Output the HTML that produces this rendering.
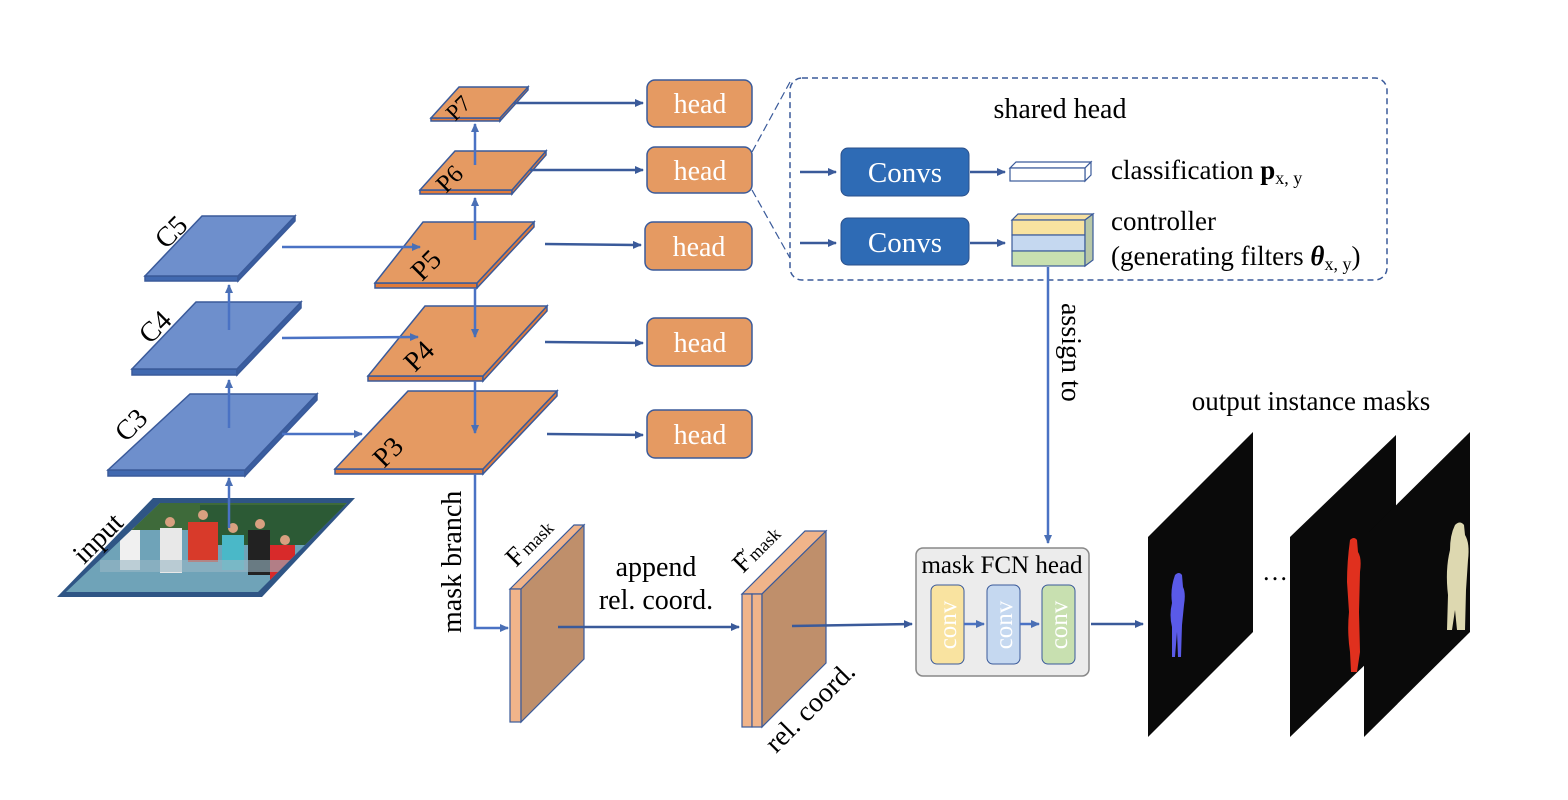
<!DOCTYPE html>
<html><head><meta charset="utf-8"><style>
html,body{margin:0;padding:0;background:#fff;}
svg{display:block;font-family:"Liberation Serif",serif;}
</style></head><body>
<svg width="1568" height="800" viewBox="0 0 1568 800" xmlns="http://www.w3.org/2000/svg">
<defs>
<marker id="a" markerWidth="10" markerHeight="10" refX="8" refY="4" orient="auto" markerUnits="userSpaceOnUse"><path d="M0,0 L9,4 L0,8 Z" fill="#4a6fb5"/></marker>
<marker id="b" markerWidth="10" markerHeight="10" refX="8" refY="4" orient="auto" markerUnits="userSpaceOnUse"><path d="M0,0 L9,4 L0,8 Z" fill="#3a5a9a"/></marker>
<clipPath id="ip"><polygon points="160,503 347,503 258,592 66,592"/></clipPath>
</defs>

<polygon points="153,498 355,498 262,597 57,597" fill="#2f5585"/>
<g clip-path="url(#ip)">
<rect x="50" y="500" width="310" height="100" fill="#6fa3b8"/>
<rect x="50" y="500" width="310" height="30" fill="#3e6a3a"/>
<rect x="200" y="505" width="160" height="40" fill="#2c5a35"/>
<rect x="120" y="530" width="20" height="40" fill="#f0f0f0"/>
<rect x="160" y="528" width="22" height="45" fill="#e8e8e8"/>
<rect x="188" y="522" width="30" height="40" fill="#d83a2a"/>
<rect x="222" y="535" width="22" height="35" fill="#4ab8c8"/>
<rect x="248" y="530" width="22" height="45" fill="#222"/>
<rect x="270" y="545" width="25" height="35" fill="#d82a2a"/>
<rect x="100" y="560" width="200" height="12" fill="#9ab8c4" opacity="0.6"/>
<circle cx="130" cy="525" r="5" fill="#d8a080"/><circle cx="170" cy="522" r="5" fill="#d8a080"/><circle cx="203" cy="515" r="5" fill="#d8a080"/><circle cx="233" cy="528" r="5" fill="#d8a080"/><circle cx="260" cy="524" r="5" fill="#d8a080"/><circle cx="285" cy="540" r="5" fill="#d8a080"/>
</g>

<g stroke="#3a5a9a" stroke-width="1.5">
<polygon points="145,276 238,276 238,281 145,281" fill="#4169b0"/>
<polygon points="238,276 295,216 295,221 238,281" fill="#3a5ea0"/>
<polygon points="202,216 295,216 238,276 145,276" fill="#6e8fcc"/>
<polygon points="132,369 237,369 237,375 132,375" fill="#4169b0"/>
<polygon points="237,369 301,302 301,308 237,375" fill="#3a5ea0"/>
<polygon points="196,302 301,302 237,369 132,369" fill="#6e8fcc"/>
<polygon points="108,470 245,470 245,476 108,476" fill="#4169b0"/>
<polygon points="245,470 317,394 317,400 245,476" fill="#3a5ea0"/>
<polygon points="190,394 317,394 245,470 108,470" fill="#6e8fcc"/>
</g>
<g stroke="#3a5a9a" stroke-width="1.5">
<polygon points="375,283 477,283 477,288 375,288" fill="#e07a3a"/>
<polygon points="477,283 534,222 534,227 477,288" fill="#e07a3a"/>
<polygon points="423,222 534,222 477,283 375,283" fill="#e59a62"/>
<polygon points="368,376 483,376 483,381 368,381" fill="#e07a3a"/>
<polygon points="483,376 547,306 547,311 483,381" fill="#e07a3a"/>
<polygon points="425,306 547,306 483,376 368,376" fill="#e59a62"/>
<polygon points="335,469 483,469 483,474 335,474" fill="#e07a3a"/>
<polygon points="483,469 557,391 557,396 483,474" fill="#e07a3a"/>
<polygon points="408,391 557,391 483,469 335,469" fill="#e59a62"/>
<polygon points="420,190 512,190 512,194 420,194" fill="#e07a3a"/>
<polygon points="512,190 546,151 546,155 512,194" fill="#e07a3a"/>
<polygon points="455,151 546,151 512,190 420,190" fill="#e59a62"/>
<polygon points="431,118 500,118 500,121 431,121" fill="#e07a3a"/>
<polygon points="500,118 528,87 528,90 500,121" fill="#e07a3a"/>
<polygon points="459,87 528,87 500,118 431,118" fill="#e59a62"/>
</g>

<g font-size="28" fill="#000">
<text transform="translate(166,250) rotate(-45)">C5</text>
<text transform="translate(150,345) rotate(-45)">C4</text>
<text transform="translate(126,443) rotate(-45)">C3</text>
<text transform="translate(84,565) rotate(-45)">input</text>
<text transform="translate(422,282) rotate(-45)">P5</text>
<text transform="translate(415,373) rotate(-45)">P4</text>
<text transform="translate(384,469) rotate(-45)">P3</text>
<text transform="translate(446,194) rotate(-45)" font-size="25">P6</text>
<text transform="translate(455,122) rotate(-45)" font-size="23">P7</text>
</g>

<g stroke="#4a72c4" stroke-width="2.5" fill="none" marker-end="url(#a)">
<line x1="229" y1="528" x2="229" y2="478"/>
<line x1="229" y1="428" x2="229" y2="380"/>
<line x1="229" y1="330" x2="229" y2="285"/>
<line x1="475" y1="240" x2="475" y2="198"/>
<line x1="475" y1="165" x2="475" y2="124"/>
<line x1="475" y1="288" x2="475" y2="337"/>
<line x1="475" y1="381" x2="475" y2="433"/>
<line x1="282" y1="247" x2="420" y2="247"/>
<line x1="282" y1="338" x2="418" y2="337"/>
<line x1="282" y1="434" x2="362" y2="434"/>
</g>
<g stroke="#3a5a9a" stroke-width="2.5" fill="none" marker-end="url(#b)">
<line x1="514" y1="103" x2="643" y2="103"/>
<line x1="530" y1="170" x2="643" y2="170"/>
<line x1="545" y1="244" x2="641" y2="245"/>
<line x1="545" y1="342" x2="643" y2="343"/>
<line x1="547" y1="434" x2="643" y2="435"/>
</g>
<g fill="#e59a62" stroke="#3a5a9a" stroke-width="1.5">
<rect x="647" y="80" width="105" height="47" rx="8"/>
<rect x="647" y="147" width="105" height="46" rx="8"/>
<rect x="645" y="222" width="107" height="48" rx="8"/>
<rect x="647" y="318" width="105" height="48" rx="8"/>
<rect x="647" y="410" width="105" height="48" rx="8"/>
</g>
<g font-size="28" fill="#fff" text-anchor="middle">
<text x="700" y="113">head</text>
<text x="700" y="180">head</text>
<text x="699" y="256">head</text>
<text x="700" y="352">head</text>
<text x="700" y="444">head</text>
</g>

<rect x="790" y="78" width="597" height="202" rx="12" fill="none" stroke="#3a5a9a" stroke-width="1.5" stroke-dasharray="6,4"/>
<line x1="752" y1="152" x2="790" y2="82" stroke="#3a5a9a" stroke-width="1.2" stroke-dasharray="8,4"/>
<line x1="752" y1="190" x2="790" y2="258" stroke="#3a5a9a" stroke-width="1.2" stroke-dasharray="8,4"/>
<text x="1060" y="118" font-size="28" text-anchor="middle">shared head</text>
<g stroke="#3a5a9a" stroke-width="2.5" marker-end="url(#b)">
<line x1="800" y1="172" x2="836" y2="172"/>
<line x1="800" y1="243" x2="836" y2="243"/>
<line x1="970" y1="172" x2="1005" y2="172"/>
<line x1="970" y1="243" x2="1005" y2="243"/>
</g>
<rect x="841" y="148" width="128" height="48" rx="7" fill="#2e6bb5" stroke="#2a4f8a"/>
<rect x="841" y="218" width="128" height="47" rx="7" fill="#2e6bb5" stroke="#2a4f8a"/>
<text x="905" y="182" font-size="29" fill="#fff" text-anchor="middle">Convs</text>
<text x="905" y="252" font-size="29" fill="#fff" text-anchor="middle">Convs</text>
<g stroke="#3a5a9a" stroke-width="1.2">
<polygon points="1016,162 1091,162 1085,168 1010,168" fill="#fff"/>
<polygon points="1085,168 1091,162 1091,175 1085,181" fill="#fff"/>
<rect x="1010" y="168" width="75" height="13" fill="#fff"/>
<polygon points="1018,214 1093,214 1085,220 1012,220" fill="#f7e0a0"/>
<rect x="1012" y="220" width="73" height="15" fill="#f9e3a0"/>
<rect x="1012" y="235" width="73" height="16" fill="#c5d8f0"/>
<rect x="1012" y="251" width="73" height="15" fill="#c8e0b0"/>
<polygon points="1085,220 1093,214 1093,260 1085,266" fill="#b8c8a8"/>
</g>
<text x="1111" y="179" font-size="27">classification <tspan font-weight="bold">p</tspan><tspan font-size="18" dy="5">x, y</tspan></text>
<text x="1111" y="230" font-size="27">controller</text>
<text x="1111" y="265" font-size="27">(generating filters <tspan font-weight="bold" font-style="italic">θ</tspan><tspan font-size="18" dy="5">x, y</tspan><tspan dy="-5">)</tspan></text>

<line x1="1048" y1="267" x2="1048" y2="543" stroke="#4a72c4" stroke-width="2.5" marker-end="url(#a)"/>
<text transform="translate(1062,303) rotate(90)" font-size="28">assign to</text>

<polyline points="475,474 475,628 508,628" fill="none" stroke="#4a72c4" stroke-width="2.5" marker-end="url(#a)"/>
<text transform="translate(461,633) rotate(-90)" font-size="28">mask branch</text>

<g stroke="#3a5a9a" stroke-width="1.2">
<polygon points="510,589 574,525 584,525 521,589" fill="#f0b48a"/>
<rect x="510" y="589" width="11" height="133" fill="#f0b48a"/>
<polygon points="521,589 584,525 584,659 521,722" fill="#bf8f6b"/>
</g>
<text transform="translate(516,568) rotate(-45)" font-size="27">F<tspan font-size="18" dx="2">mask</tspan></text>
<line x1="558" y1="627" x2="739" y2="627" stroke="#3a5a9a" stroke-width="2.5" marker-end="url(#b)"/>
<text x="656" y="576" font-size="28" text-anchor="middle">append</text>
<text x="656" y="609" font-size="28" text-anchor="middle">rel. coord.</text>

<g stroke="#3a5a9a" stroke-width="1.2">
<polygon points="742,594 805,531 826,531 762,594" fill="#f0b48a"/>
<rect x="742" y="594" width="10" height="133" fill="#f0b48a"/>
<rect x="752" y="594" width="10" height="133" fill="#f0b48a"/>
<polygon points="762,594 826,531 826,663 762,727" fill="#bf8f6b"/>
</g>
<text transform="translate(743,574) rotate(-45)" font-size="27">F<tspan font-size="18" dx="2">mask</tspan></text>
<text transform="translate(741,561) rotate(-45)" font-size="20">~</text>
<text transform="translate(776,754) rotate(-45)" font-size="28">rel. coord.</text>
<line x1="792" y1="626" x2="912" y2="624" stroke="#3a5a9a" stroke-width="2.5" marker-end="url(#b)"/>

<rect x="916" y="548" width="173" height="128" rx="7" fill="#ececec" stroke="#888" stroke-width="1.5"/>
<text x="1002" y="573" font-size="25" text-anchor="middle">mask FCN head</text>
<rect x="931" y="585" width="33" height="79" rx="6" fill="#f9e3a0" stroke="#3a5a9a"/>
<rect x="987" y="585" width="33" height="79" rx="6" fill="#c5d8f0" stroke="#3a5a9a"/>
<rect x="1042" y="585" width="33" height="79" rx="6" fill="#c8e0b0" stroke="#3a5a9a"/>
<g font-size="25" fill="#fff" text-anchor="middle">
<text transform="translate(956,625) rotate(-90)">conv</text>
<text transform="translate(1012,625) rotate(-90)">conv</text>
<text transform="translate(1067,625) rotate(-90)">conv</text>
</g>
<g stroke="#4a72c4" stroke-width="2.5" marker-end="url(#a)">
<line x1="964" y1="624" x2="984" y2="624"/>
<line x1="1020" y1="624" x2="1039" y2="624"/>
</g>
<line x1="1091" y1="624" x2="1143" y2="624" stroke="#3a5a9a" stroke-width="2.5" marker-end="url(#b)"/>

<text x="1311" y="410" font-size="27" text-anchor="middle">output instance masks</text>
<polygon points="1148,537 1253,432 1253,632 1148,737" fill="#0a0a0a"/>
<polygon points="1290,537 1396,435 1396,635 1290,737" fill="#0a0a0a"/>
<polygon points="1364,537 1470,432 1470,632 1364,737" fill="#0a0a0a"/>
<text x="1275" y="580" font-size="26" text-anchor="middle">…</text>
<path d="M1175,575 q4,-4 7,0 l1,12 q3,6 1,18 l-2,20 l-1,32 h-3 l-1,-25 l-2,25 h-3 l0,-30 q-3,-12 0,-24 q-2,-14 3,-28z" fill="#5a5ae8"/>
<path d="M1350,540 q4,-4 7,0 l1,12 q4,6 2,20 l-1,40 l1,40 l-3,20 h-6 l-1,-20 q-3,-20 -1,-40 l-2,-30 q0,-20 3,-42z" fill="#e0301e"/>
<path d="M1455,525 q5,-5 9,0 l1,10 q5,8 3,25 l-2,30 l-1,40 h-8 l-2,-20 l-3,20 h-5 l1,-35 q-3,-25 2,-45 q0,-15 5,-25z" fill="#ddd8b0"/>
</svg>
</body></html>
